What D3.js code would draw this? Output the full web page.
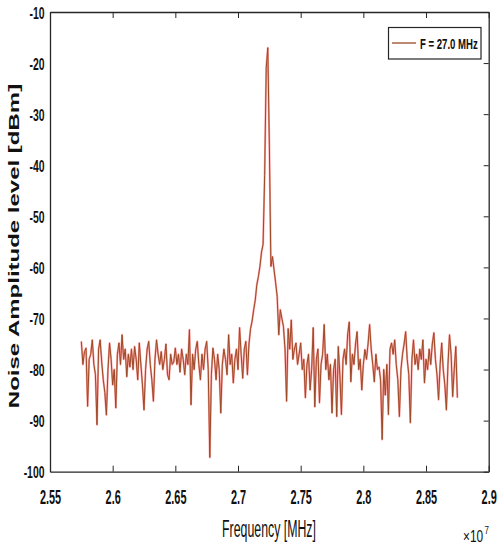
<!DOCTYPE html>
<html><head><meta charset="utf-8">
<script src="https://cdn.jsdelivr.net/npm/d3@7"></script>
<style>body{margin:0;background:#fff} svg{display:block}</style>
</head><body><svg id="c" width="501" height="550"></svg>
<script>
// ---- data ----
const freqStartHz = 2.575e7;
const freqStepHz = 1.25e4;
const noiseLevelDbm = [
  -74.5, -79, -76.5, -75.8, -87.2, -78, -77, -74.2, -79, -81,
  -90.8, -76, -74.2, -78.5, -82, -84.5, -88.9, -80, -74.8, -78,
  -83, -80, -87.5, -77, -74.8, -79, -73.2, -78, -76, -81.4,
  -77, -79.5, -76, -80, -75.5, -78, -82, -74.8, -79, -83,
  -87.9, -80, -76, -74.5, -79, -82, -86.2, -78, -74.2, -77,
  -79, -76.5, -80, -78, -75, -81, -82, -77, -79, -78.5,
  -75.8, -79, -77, -80.5, -76, -78, -81, -77, -79, -72.2,
  -86.9, -77, -80, -76, -74.5, -79, -82, -77, -80, -76,
  -74.5, -80, -97.2, -81, -75.8, -78, -82, -77, -80, -88.5,
  -79, -76, -78, -81, -73.2, -79, -77, -82.6, -78, -76,
  -80, -71.8, -77, -81.7, -76, -74.5, -81, -75, -72, -70.5,
  -68.3, -66.4, -63.4, -61.8, -59.8, -57, -55.5, -42, -21, -17,
  -36, -59.8, -57.9, -60.5, -63, -65.7, -73.2, -68.3, -70, -71.6,
  -76, -86.2, -72, -76, -70.3, -78, -76, -74.8, -79, -77,
  -74.8, -80, -78, -85.5, -79, -77, -84, -80, -71.8, -87.3,
  -78, -76, -86.5, -79, -77, -71.2, -80, -77, -82, -79,
  -88.5, -80, -78, -89.2, -75.5, -81, -88.8, -78, -76, -79,
  -73, -70.7, -82.4, -77, -79, -75, -72.6, -80, -78, -84,
  -79, -76.1, -78, -75, -71.2, -76, -79, -82.4, -77, -80,
  -79.5, -82, -93.7, -80, -85, -79, -88.8, -76, -74.8, -77,
  -74.2, -79, -82, -89.2, -80, -77, -75, -72.6, -78, -81,
  -90.4, -78, -74.2, -79, -77, -80, -76, -78, -74.2, -82.6,
  -78, -80, -76, -79, -75, -72.8, -78, -81, -85.9, -79,
  -74.8, -80, -83, -87.9, -79, -73.2, -77, -85.3, -80, -75.5, -85.5
];
const xTickValuesHz = [2.55e7, 2.6e7, 2.65e7, 2.7e7, 2.75e7, 2.8e7, 2.85e7, 2.9e7];
const xTickLabels = ["2.55", "2.6", "2.65", "2.7", "2.75", "2.8", "2.85", "2.9"];
const yTickValues = [-100, -90, -80, -70, -60, -50, -40, -30, -20, -10];
const yTickLabels = ["-100", "-90", "-80", "-70", "-60", "-50", "-40", "-30", "-20", "-10"];
const legendLabel = "F = 27.0 MHz";
const xAxisTitle = "Frequency [MHz]";
const yAxisTitle = "Noise Amplitude level [dBm]";

// ---- chart ----
const svg = d3.select("#c");
const FONT = "'Liberation Sans', Arial, sans-serif";
const L = 50, R = 488.7, T = 12, B = 471.7;
const x = d3.scaleLinear().domain([2.55e7, 2.9e7]).range([L, R]);
const y = d3.scaleLinear().domain([-100, -10]).range([B, T]);
const AX = "#262626";
const LINE = "#9a4a26";

const pts = noiseLevelDbm.map((v, i) => ({ f: freqStartHz + i * freqStepHz, v }));
const line = d3.line().x(d => x(d.f)).y(d => y(d.v));

svg.append("path").datum(pts).attr("d", line)
  .attr("fill", "none").attr("stroke", "#ff2a2a").attr("stroke-width", 2)
  .attr("stroke-opacity", 0.45).attr("stroke-linejoin", "round");
svg.append("path").datum(pts).attr("d", line)
  .attr("fill", "none").attr("stroke", LINE).attr("stroke-width", 1)
  .attr("stroke-linejoin", "round");

function styleAxis(g) {
  g.select(".domain").attr("stroke", AX).attr("stroke-width", 1.3);
  g.selectAll(".tick line").attr("stroke", AX).attr("stroke-width", 1);
}

// bottom
const gB = svg.append("g").attr("transform", `translate(0,${B})`)
  .call(d3.axisBottom(x).tickValues(xTickValuesHz).tickFormat((d, i) => xTickLabels[i])
    .tickSizeInner(-6).tickSizeOuter(0).tickPadding(0));
styleAxis(gB);
gB.selectAll(".tick text").attr("font-family", FONT).attr("font-size", 19.5)
  .attr("font-weight", "bold").attr("fill", "#111").attr("dy", null).attr("y", 0)
  .attr("transform", "translate(0,32.5) scale(0.56,1)");

// top
const gT = svg.append("g").attr("transform", `translate(0,${T})`)
  .call(d3.axisTop(x).tickValues(xTickValuesHz).tickFormat("").tickSizeInner(-6).tickSizeOuter(0));
styleAxis(gT);

// left
const gL = svg.append("g").attr("transform", `translate(${L},0)`)
  .call(d3.axisLeft(y).tickValues(yTickValues).tickFormat((d, i) => yTickLabels[i])
    .tickSizeInner(0).tickSizeOuter(0).tickPadding(0));
styleAxis(gL);
gL.selectAll(".tick text").attr("font-family", FONT).attr("font-size", 16.8)
  .attr("font-weight", "bold").attr("fill", "#111").attr("x", 0).attr("dy", "0.36em")
  .attr("transform", "translate(-5.5,0) scale(0.62,1)");

// right
const gR = svg.append("g").attr("transform", `translate(${R},0)`)
  .call(d3.axisRight(y).tickValues(yTickValues).tickFormat("").tickSizeInner(-5).tickSizeOuter(0));
styleAxis(gR);

// axis titles
svg.append("text").text(xAxisTitle)
  .attr("text-anchor", "middle").attr("font-family", FONT).attr("font-size", 23.5)
  .attr("fill", "#111").attr("transform", "translate(269,536.5) scale(0.525,1)");

svg.append("text").text(yAxisTitle)
  .attr("text-anchor", "middle").attr("font-family", FONT).attr("font-size", 24)
  .attr("font-weight", "bold").attr("fill", "#111")
  .attr("transform", "translate(18.5,246) scale(0.62,1) rotate(-90)");

// exponent
svg.append("text").text("\u00d710")
  .attr("font-family", FONT).attr("font-size", 16).attr("fill", "#111")
  .attr("transform", "translate(463,541.5) scale(0.74,1)");
svg.append("text").text("7").attr("font-size", 10)
  .attr("font-family", FONT).attr("fill", "#111")
  .attr("transform", "translate(484.5,534) scale(0.8,1)");

// legend
const lg = svg.append("g");
lg.append("rect").attr("x", 388.5).attr("y", 27.5).attr("width", 92.5).attr("height", 31.5)
  .attr("fill", "#fff").attr("stroke", AX).attr("stroke-width", 1.2);
lg.append("line").attr("x1", 392).attr("x2", 416).attr("y1", 43).attr("y2", 43)
  .attr("stroke", LINE).attr("stroke-width", 1.3);
lg.append("text").text(legendLabel)
  .attr("font-family", FONT).attr("font-size", 15).attr("font-weight", "bold")
  .attr("fill", "#111").attr("transform", "translate(420,48.8) scale(0.64,1)");
</script>
</body></html>
